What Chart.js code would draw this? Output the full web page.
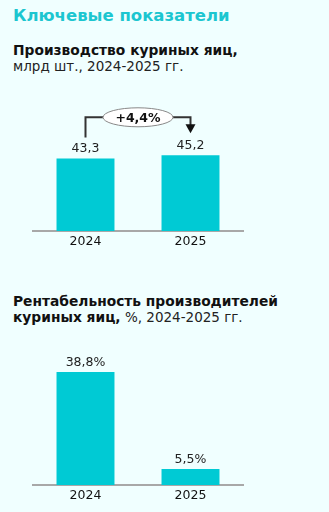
<!DOCTYPE html>
<html lang="ru">
<head>
<meta charset="utf-8">
<script src="https://cdn.jsdelivr.net/npm/chart.js@4"></script>
<style>
  html, body { margin: 0; padding: 0; }
  body {
    width: 329px; height: 512px; overflow: hidden; position: relative;
    background: #f0ffff; font-family: "DejaVu Sans", Verdana, sans-serif; color: #111;
  }
  .title { position: absolute; left: 13px; top: 6px; font-size: 16.5px; line-height: 20px; font-weight: bold; color: #1cc6d0; }
  .sub { position: absolute; left: 13px; font-size: 13.5px; line-height: 16px; color: #222; }
  .sub b { color: #111; font-size: 13.8px; }
  .box { position: absolute; left: 0; width: 329px; }
</style>
</head>
<body>
<div class="title">Ключевые показатели</div>
<div class="sub" style="top:42px"><b>Производство куриных яиц,</b><br>млрд шт., 2024-2025 гг.</div>
<div class="box" style="top:80px;height:180px"><canvas id="eggsChart"></canvas></div>
<div class="sub" style="top:294px;line-height:15.5px"><b>Рентабельность производителей<br>куриных яиц,</b> %, 2024-2025 гг.</div>
<div class="box" style="top:330px;height:182px"><canvas id="profitChart"></canvas></div>

<script>
// данные
const years = ['2024', '2025'];
const eggsValues = [43.3, 45.2];
const profitValues = [38.8, 5.5];
const growthLabel = '+4,4%';

const barColor = '#00cad4';
const fontFamily = '"DejaVu Sans", Verdana, sans-serif';

// подписи над столбцами
function valueLabels(suffix) {
  return {
    id: 'valueLabels',
    afterDatasetsDraw(chart) {
      const ctx = chart.ctx;
      const meta = chart.getDatasetMeta(0);
      ctx.save();
      ctx.font = '12.5px ' + fontFamily;
      ctx.fillStyle = '#222';
      ctx.textAlign = 'center';
      ctx.textBaseline = 'bottom';
      meta.data.forEach((bar, i) => {
        const v = chart.data.datasets[0].data[i];
        ctx.fillText(v.toFixed(1).replace('.', ',') + suffix, bar.x, bar.y - 3);
      });
      ctx.restore();
    }
  };
}

// скобка со стрелкой и приростом
const growthBracket = {
  id: 'growthBracket',
  afterDatasetsDraw(chart) {
    const ctx = chart.ctx;
    const bars = chart.getDatasetMeta(0).data;
    const x1 = bars[0].x, x2 = bars[1].x;
    const lineY = Math.min(bars[0].y, bars[1].y) - 38;
    const cx = (x1 + x2) / 2;
    ctx.save();
    ctx.strokeStyle = '#333';
    ctx.lineWidth = 2;
    ctx.beginPath();
    ctx.moveTo(x1, bars[0].y - 21);
    ctx.lineTo(x1, lineY);
    ctx.lineTo(x2, lineY);
    ctx.lineTo(x2, bars[1].y - 30);
    ctx.stroke();
    ctx.fillStyle = '#111';
    ctx.beginPath();
    ctx.moveTo(x2 - 5, bars[1].y - 31);
    ctx.lineTo(x2 + 5, bars[1].y - 31);
    ctx.lineTo(x2, bars[1].y - 22);
    ctx.closePath();
    ctx.fill();
    ctx.beginPath();
    ctx.ellipse(cx, lineY, 35, 9.5, 0, 0, Math.PI * 2);
    ctx.fillStyle = '#fff';
    ctx.fill();
    ctx.lineWidth = 1;
    ctx.strokeStyle = '#888';
    ctx.stroke();
    ctx.fillStyle = '#111';
    ctx.font = 'bold 12.5px ' + fontFamily;
    ctx.textAlign = 'center';
    ctx.textBaseline = 'middle';
    ctx.fillText(growthLabel, cx, lineY + 1);
    ctx.restore();
  }
};

function makeConfig(values, yMax, padTop, padBottom, plugins) {
  return {
    type: 'bar',
    data: {
      labels: years,
      datasets: [{
        data: values,
        backgroundColor: barColor,
        barPercentage: 0.552,
        categoryPercentage: 1
      }]
    },
    options: {
      responsive: true,
      maintainAspectRatio: false,
      animation: false,
      layout: { padding: { left: 33, right: 86, top: padTop, bottom: padBottom } },
      plugins: { legend: { display: false }, tooltip: { enabled: false } },
      scales: {
        x: {
          grid: { display: false, drawTicks: false },
          border: { color: '#a8a8a8', width: 2 },
          ticks: { color: '#111', padding: 3, font: { family: fontFamily, size: 12.5 } }
        },
        y: { display: false, min: 0, max: yMax }
      }
    },
    plugins: plugins
  };
}

new Chart(document.getElementById('eggsChart'),
  makeConfig(eggsValues, 80, 17, 8, [valueLabels(''), growthBracket]));
new Chart(document.getElementById('profitChart'),
  makeConfig(profitValues, 40, 38.5, 6, [valueLabels('%')]));
</script>
</body>
</html>
